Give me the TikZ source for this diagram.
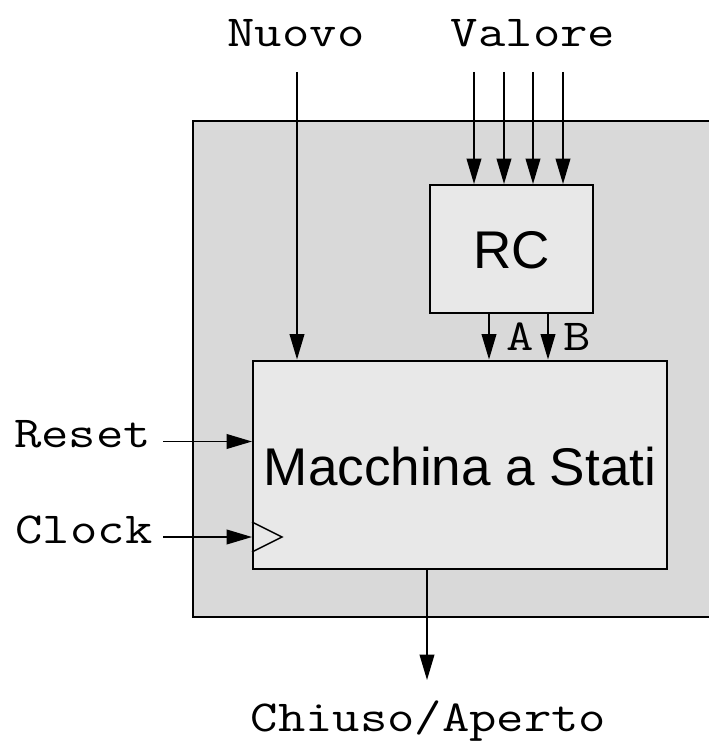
\documentclass[tikz,border=0pt]{standalone}
\usepackage{fontspec}
\setmainfont{Liberation Sans}
\newfontfamily\courfont[FakeStretch=1.2]{Latin Modern Mono}
\usetikzlibrary{arrows.meta}
\definecolor{outerfill}{HTML}{D9D9D9}
\definecolor{innerfill}{HTML}{E8E8E8}
\tikzset{
  arr/.style={line width=1.2pt,-{Triangle[length=19pt,width=11pt]}},
  lbl/.style={font=\fontsize{33.2pt}{40pt}\selectfont\courfont, inner sep=0pt, anchor=base},
  boxtxt/.style={font=\fontsize{39.8pt}{46pt}\selectfont, inner sep=0pt, anchor=base},
  blk/.style={draw, line width=1.5pt, fill=innerfill, inner sep=0pt}
}
\begin{document}
\begin{tikzpicture}[x=0.75pt,y=-0.75pt]
\useasboundingbox (0,0) rectangle (708,742);
% outer box
\node[draw, line width=1.5pt, fill=outerfill, inner sep=0pt, minimum width=395.25pt, minimum height=372pt] (outer) at (456.5,369) {};
% blocks
\node[blk, minimum width=310.5pt, minimum height=156pt] (mac) at (460,464.5) {};
\node[blk, minimum width=122.25pt, minimum height=96pt] (rc) at (511.5,249) {};
\node[boxtxt] (mactxt) at (460,485) {Macchina a Stati};
\node[boxtxt] (rctxt) at (512,268) {RC};
% clock triangle
\draw[line width=1.1pt] (mac.west |- 0,522) -- (282,537) -- (mac.west |- 0,552);
% labels
\node[lbl] (nuovo) at (296,47) {Nuovo};
\node[lbl] (valore) at (533,47) {Valore};
\node[lbl] (reset) at (82.5,447) {Reset};
\node[lbl] (clock) at (84,543) {Clock};
\node[lbl] (out) at (428.5,731) {Chiuso/Aperto};
\node[lbl] (la) at (520,350) {A};
\node[lbl] (lb) at (577,350) {B};
% input coordinates
\coordinate (nin) at (297,72);
\coordinate (v1) at (474,72);
\coordinate (v2) at (504,72);
\coordinate (v3) at (533,72);
\coordinate (v4) at (563,72);
\coordinate (rin) at (163,441.5);
\coordinate (cin) at (163,537);
\coordinate (oend) at (427,680);
\coordinate (ax) at (489,0);
\coordinate (bx) at (548,0);
% arrows
\draw[arr] (nin) -- (nin |- mac.north);
\foreach \v in {v1,v2,v3,v4} \draw[arr] (\v) -- (\v |- rc.north);
\draw[arr] (ax |- rc.south) -- (ax |- mac.north);
\draw[arr] (bx |- rc.south) -- (bx |- mac.north);
\draw[arr] (rin) -- (rin -| mac.west);
\draw[arr] (cin) -- (cin -| mac.west);
\draw[arr] (oend |- mac.south) -- (oend);
\end{tikzpicture}
\end{document}
